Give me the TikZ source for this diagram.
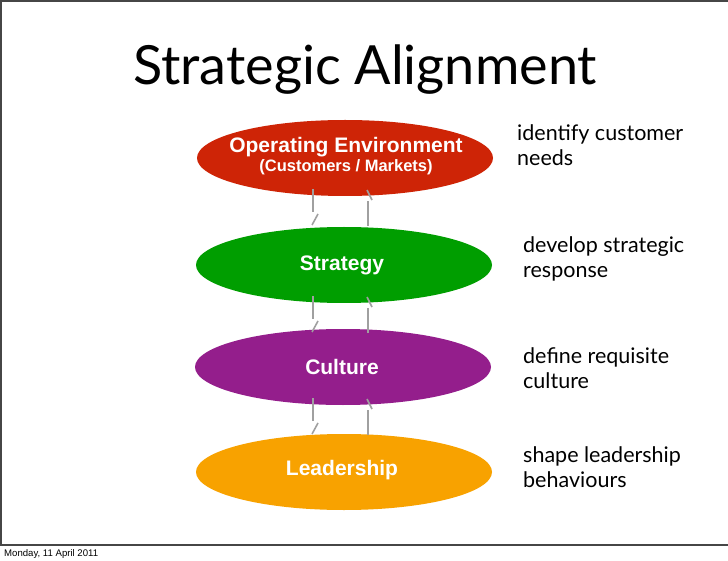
\documentclass[tikz,border=0pt]{standalone}
\usepackage{fontspec}
\setmainfont{Lato}
\newfontfamily\helv{Liberation Sans}
\usetikzlibrary{shapes.geometric}
\definecolor{ered}{RGB}{206,36,6}
\definecolor{egreen}{RGB}{0,158,0}
\definecolor{epurple}{RGB}{148,30,140}
\definecolor{eorange}{RGB}{248,162,0}
\definecolor{framegray}{RGB}{70,70,70}
\definecolor{arrowgray}{RGB}{160,160,160}
\tikzset{
  oval/.style={ellipse, minimum width=296pt, minimum height=76pt, inner sep=0pt, draw=none},
  ovaltext/.style={inner sep=0pt, text=white, font=\helv\bfseries\fontsize{21}{22}\selectfont, align=center},
  note/.style={anchor=north west, inner sep=0pt, align=left, font=\fontsize{21.5}{25.5}\selectfont},
  shaft/.style={draw=arrowgray, line width=2pt},
  barb/.style={draw=arrowgray, line width=1.6pt}
}
\begin{document}
\begin{tikzpicture}[x=1pt,y=-1pt]
\useasboundingbox (0,0) rectangle (728,561);
\fill[white] (0,0) rectangle (728,561);
% frame
\draw[framegray, line width=2pt] (1,545) -- (1,1) -- (728,1);
\draw[framegray, line width=2pt] (0,545) -- (728,545);
% title
\node[anchor=base, inner sep=0pt, font=\fontsize{54}{60}\selectfont] (title) at (365,85) {Strategic Alignment};
% ellipses
\node[oval, fill=ered] (env) at (345,158) {};
\node[ovaltext] (envt) at (346,156) {Operating Environment\\[-3pt]{\fontsize{16.5}{17}\selectfont (Customers / Markets)}};
\node[oval, fill=egreen] (strat) at (344,265) {};
\node[ovaltext] (stratt) at (342,265) {Strategy};
\node[oval, fill=epurple] (cult) at (343,367) {};
\node[ovaltext] (cultt) at (342,367) {Culture};
\node[oval, fill=eorange] (lead) at (344,472) {};
\node[ovaltext] (leadt) at (342,470) {Leadership};
% arrows
\foreach \c/\n in {158/a,265/b,367/c}{
  \coordinate (ls\n) at (313,\c+31);
  \coordinate (le\n) at (313,\c+54);
  \coordinate (lb\n) at (312,\c+67);
  \coordinate (lt\n) at (318,\c+56);
  \coordinate (rs\n) at (368,\c+68);
  \coordinate (re\n) at (368,\c+43);
  \coordinate (rb\n) at (367,\c+32);
  \coordinate (rt\n) at (372,\c+42);
  \draw[shaft] (ls\n) -- (le\n);
  \draw[barb] (lb\n) -- (lt\n);
  \draw[shaft] (rs\n) -- (re\n);
  \draw[barb] (rb\n) -- (rt\n);
}
% notes
\node[note] (n1) at (517,124) {identify customer\\needs};
\node[note] (n2) at (523,236) {develop strategic\\response};
\node[note] (n3) at (523,347) {define requisite\\culture};
\node[note] (n4) at (523,446) {shape leadership\\behaviours};
% date
\node[anchor=base west, inner sep=0pt, font=\helv\fontsize{9.6}{12}\selectfont] (date) at (4,556) {Monday, 11 April 2011};
\end{tikzpicture}
\end{document}
